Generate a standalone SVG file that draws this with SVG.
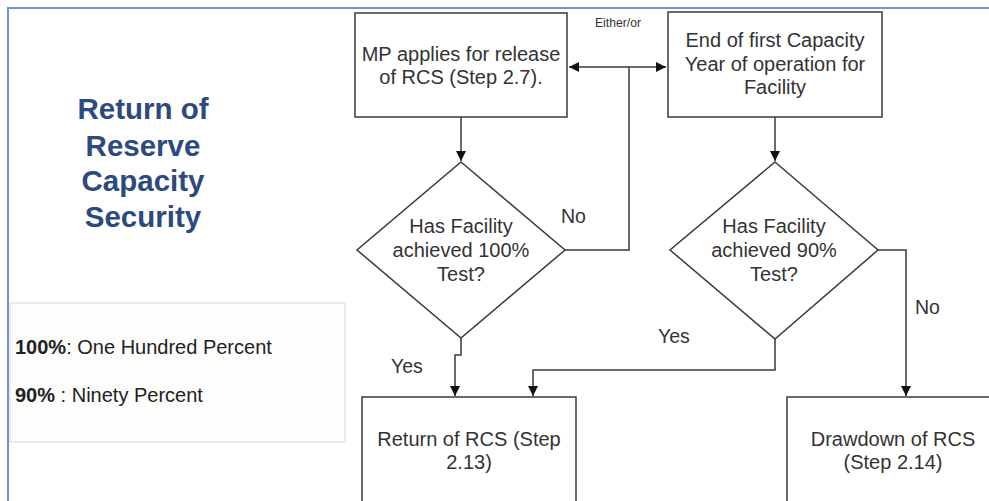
<svg xmlns="http://www.w3.org/2000/svg" width="989" height="501" viewBox="0 0 989 501">
<defs>
<marker id="ah" viewBox="0 0 10 10" refX="10" refY="5" markerWidth="10" markerHeight="10" markerUnits="userSpaceOnUse" orient="auto-start-reverse">
<path d="M0,0 L10,5 L0,10 z" fill="#111"/>
</marker>
<style>
.bx{fill:#fff;stroke:#3a3a3a;stroke-width:1.5}
.t{font-family:"Liberation Sans",Arial,sans-serif;font-size:20px;fill:#333;text-anchor:middle}
.ln{fill:none;stroke:#3a3a3a;stroke-width:1.5}
.lb{font-family:"Liberation Sans",Arial,sans-serif;font-size:19.5px;fill:#333}
.lg{font-family:"Liberation Sans",Arial,sans-serif;font-size:20px;fill:#222}
.ti{font-family:"Liberation Sans",Arial,sans-serif;font-size:29.5px;font-weight:bold;fill:#2c4a7e;text-anchor:middle}
</style>
</defs>
<rect width="989" height="501" fill="#fff"/>
<path d="M8,501 V8 H989" fill="none" stroke="#6a95d2" stroke-width="2"/>
<g id="title">
<text class="ti" x="143" y="119">Return of</text>
<text class="ti" x="143" y="156">Reserve</text>
<text class="ti" x="143" y="191">Capacity</text>
<text class="ti" x="143" y="227">Security</text>
</g>
<g id="legend">
<rect x="10" y="303" width="335" height="139" fill="#fdfdfb" stroke="#e6e6de" stroke-width="1.5"/>
<text class="lg" x="15" y="354"><tspan font-weight="bold">100%</tspan>: One Hundred Percent</text>
<text class="lg" x="15" y="402"><tspan font-weight="bold">90%</tspan> : Ninety Percent</text>
</g>
<g id="connectors">
<line class="ln" x1="569" y1="67" x2="666" y2="67" marker-start="url(#ah)" marker-end="url(#ah)"/>
<polyline class="ln" points="629,67 629,250 565,250"/>
<line class="ln" x1="461" y1="117" x2="461" y2="161" marker-end="url(#ah)"/>
<polyline class="ln" points="461,338 461,355 455,355 455,396" marker-end="url(#ah)"/>
<line class="ln" x1="775" y1="117" x2="775" y2="161" marker-end="url(#ah)"/>
<polyline class="ln" points="775,339 775,370 533,370 533,396" marker-end="url(#ah)"/>
<polyline class="ln" points="878,250 906,250 906,396" marker-end="url(#ah)"/>
<text x="595" y="27" font-family="'Liberation Sans',Arial,sans-serif" font-size="12" fill="#333" textLength="46" lengthAdjust="spacingAndGlyphs">Either/or</text>
<text class="lb" x="561" y="223">No</text>
<text class="lb" x="391" y="373">Yes</text>
<text class="lb" x="658" y="343">Yes</text>
<text class="lb" x="915" y="314">No</text>
</g>
<g id="mp">
<rect class="bx" x="355" y="13" width="212" height="104"/>
<text class="t" x="461" y="61">MP applies for release</text>
<text class="t" x="461" y="84">of RCS (Step 2.7).</text>
</g>
<g id="end">
<rect class="bx" x="668" y="12" width="214" height="105"/>
<text class="t" x="775" y="47">End of first Capacity</text>
<text class="t" x="775" y="71">Year of operation for</text>
<text class="t" x="775" y="94">Facility</text>
</g>
<g id="d100">
<polygon class="bx" points="461,162 565,250 461,338 357,250"/>
<text class="t" x="461" y="233">Has Facility</text>
<text class="t" x="461" y="257">achieved 100%</text>
<text class="t" x="461" y="281">Test?</text>
</g>
<g id="d90">
<polygon class="bx" points="775,162 878,250 775,339 670,250"/>
<text class="t" x="774" y="233">Has Facility</text>
<text class="t" x="774" y="257">achieved 90%</text>
<text class="t" x="774" y="281">Test?</text>
</g>
<g id="ret">
<rect class="bx" x="362" y="397" width="214" height="120"/>
<text class="t" x="469" y="446">Return of RCS (Step</text>
<text class="t" x="469" y="469">2.13)</text>
</g>
<g id="draw">
<rect class="bx" x="787" y="397" width="215" height="120"/>
<text class="t" x="893" y="446">Drawdown of RCS</text>
<text class="t" x="893" y="469">(Step 2.14)</text>
</g>
</svg>
